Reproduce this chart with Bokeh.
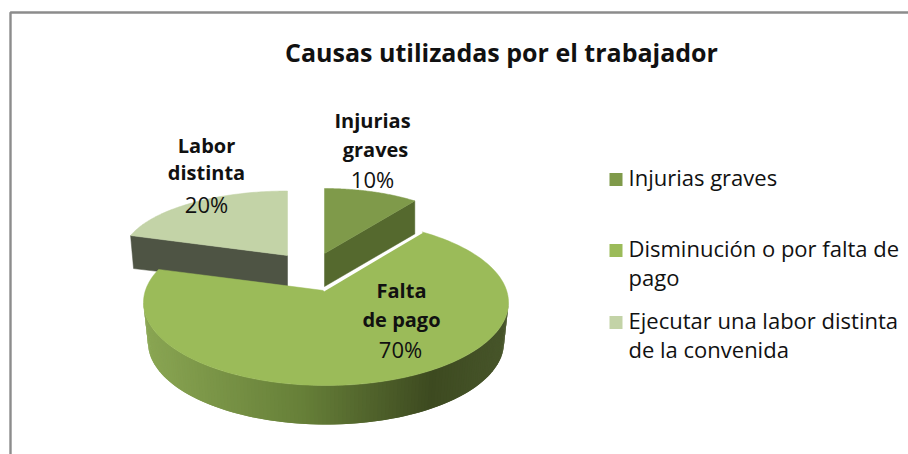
import numpy as np
from bokeh.embed import file_html
from bokeh.models import Range1d
from bokeh.plotting import figure
from bokeh.resources import INLINE
from bokeh.core.properties import value

# ---- data
title = "Causas utilizadas por el trabajador"
shares = [10, 70, 20]
label_lines = [["Injurias", "graves"], ["Falta", "de pago"], ["Labor", "distinta"]]
legend_lines = [["Injurias graves"], ["Disminución o por falta de", "pago"],
                ["Ejecutar una labor distinta", "de la convenida"]]

# ---- style / projection (page pixel coordinates of the reference)
top_colors = ["#7f9a4a", "#9bbb59", "#c3d3a7"]
cut_colors = ["#55692e", None, "#4e5444"]
legend_colors = ["#7f9a4a", "#9bbb59", "#c3d3a7"]
FONT = "Open Sans"
TEXT = "#111111"
side_stops = [(0.0, "#8aa653"), (0.45, "#667f38"), (0.80, "#3d4a20"), (1.0, "#47552a")]

p = figure(width=908, height=454, output_backend="svg", toolbar_location=None,
           x_range=Range1d(0, 908), y_range=Range1d(454, 0),
           min_border=0, outline_line_color=None, background_fill_color="white")
p.axis.visible = False
p.grid.visible = False

# frame of the picture
p.line([908, 10, 10], [12, 12, 454], line_color="#8c8c8c", line_width=2.4)


def hex2rgb(c):
    return np.array([int(c[i:i + 2], 16) for i in (1, 3, 5)], float)


def side_color(f):
    for (a, ca), (b, cb) in zip(side_stops, side_stops[1:]):
        if f <= b:
            t = (f - a) / (b - a)
            r = hex2rgb(ca) * (1 - t) + hex2rgb(cb) * t
            return "#%02x%02x%02x" % tuple(int(round(v)) for v in r)
    return side_stops[-1][1]


# cumulative slice limits (degrees, clockwise from 12 o'clock)
cum = np.cumsum([0] + shares) * 3.6


def arc(cx, cy, rx, ry, a0, a1, n=80):
    t = np.radians(np.linspace(a0, a1, n))
    return cx + rx * np.sin(t), cy - ry * np.cos(t)


def warp(a):  # perspective of the tilted pie
    return -5.6 + 1.0385 * a


# left slice (exploded, at the back)
ax, ay, rx, ry, d = 287.0, 255.0, 165.0, 64.5, 31.0
x, y = arc(ax, ay, rx, ry, cum[2], cum[3])
p.patch([x[0], x[0] + 3, ax, ax], [y[0], y[0] + d + 2, ay + d, ay], fill_color=cut_colors[2],
        line_color=cut_colors[2], line_width=0.5)
p.patch(np.r_[ax, x], np.r_[ay, y], fill_color=top_colors[2], line_color=top_colors[2], line_width=0.5)

# right slice (exploded, at the back)
ax, ay, rx, ry, d = 324.0, 253.0, 153.6, 65.0, 33.0
x, y = arc(ax, ay, rx, ry, cum[0], cum[1])
p.patch([ax, x[-1], x[-1], ax], [ay, y[-1], y[-1] + d, ay + d], fill_color=cut_colors[0],
        line_color=cut_colors[0], line_width=0.5)
p.patch(np.r_[ax, x], np.r_[ay, y], fill_color=top_colors[0], line_color=top_colors[0], line_width=0.5)

# main slice
cx, cy, rx, ry = 325.5, 302.0, 182.5, 83.0
bx, by, brx, bry = 325.5, 342.0, 178.0, 82.0
ax, ay = 323.0, 290.0
n = 140
xt, yt = arc(cx, cy, rx, ry, 90, 270, n + 1)
xb, yb = arc(bx, by, brx, bry, 90, 270, n + 1)
xs, ys, cs = [], [], []
for i in range(n):
    j = min(i + 2, n)
    xs.append([xt[i], xt[j], xb[j], xb[i]])
    ys.append([yt[i], yt[j], yb[j], yb[i]])
    cs.append(side_color((xt[i] + xt[i + 1] - 2 * xt[-1]) / (2 * (xt[0] - xt[-1]))))
p.patches(xs[::-1], ys[::-1], fill_color=cs[::-1], line_color=None)

x, y = arc(cx, cy, rx, ry, warp(cum[1]), warp(cum[2]), 200)
p.patch(np.r_[ax, x], np.r_[ay, y], fill_color=top_colors[1], line_color=top_colors[1], line_width=0.5)
# pale rim on the right cut edge of the main slice
p.line([x[0], ax], [y[0], ay], line_color="white", line_width=2.2)


def txt(px, py, s, bold=False, size="20px", align="center"):
    p.text([px], [py], text=[s], text_font=value(FONT), text_font_size=size,
           text_font_style="bold" if bold else "normal", text_align=align,
           text_baseline="middle", text_color=TEXT)


txt(501, 51, title, True, "25px")

label_pos = [[(372, 120), (375, 149), (372, 178)],
             [(401, 290), (401, 319), (400, 348)],
             [(206, 145), (206, 172), (206, 203)]]
for s, lines, pos in zip(shares, label_lines, label_pos):
    for line, (lx, ly) in zip(lines, pos[:-1]):
        txt(lx, ly, line, True)
    txt(pos[-1][0], pos[-1][1], f"{s}%", False, "22px")

legend_y = [[176], [247, 276], [319, 348]]
for col, lines, ys_ in zip(legend_colors, legend_lines, legend_y):
    p.rect([615.5], [ys_[0] + 3], width=13, height=13, fill_color=col, line_color=None)
    for line, ly in zip(lines, ys_):
        txt(628, ly, line, False, "22px", "left")

open("out.html", "w").write(file_html(p, INLINE))
